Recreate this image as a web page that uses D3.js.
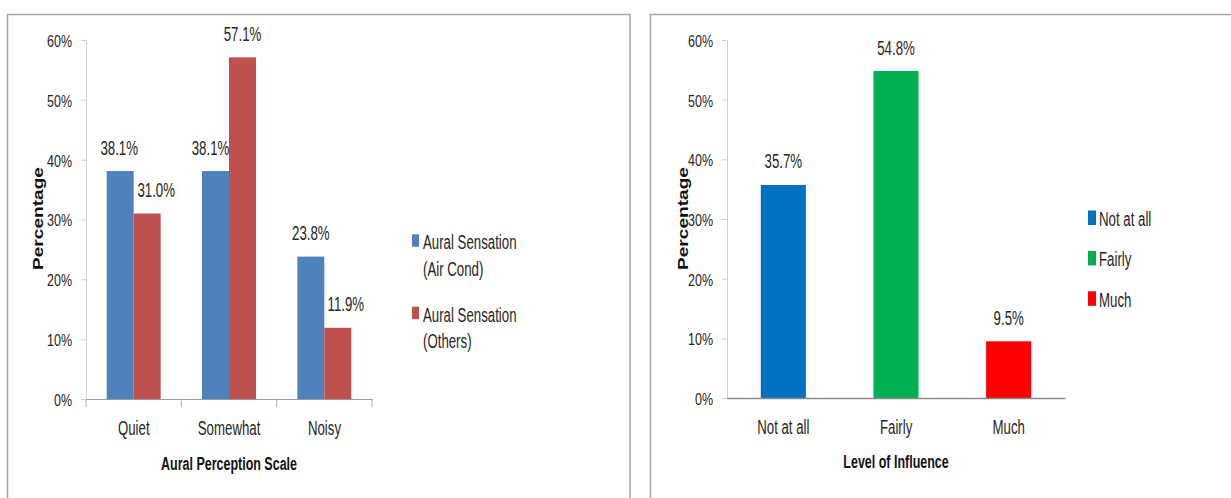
<!DOCTYPE html>
<html>
<head>
<meta charset="utf-8">
<script src="https://cdn.jsdelivr.net/npm/d3@7"></script>
<style>
  html, body { margin: 0; padding: 0; background: #fff; }
  svg { display: block; }
  /* narrow face: regular sans squeezed horizontally around its anchor */
  .narrow { font-family: "Liberation Sans", Arial, sans-serif; transform-box: fill-box; }
  .a-start { transform-origin: 0% 50%; }
  .a-middle { transform-origin: 50% 50%; }
  .a-end { transform-origin: 100% 50%; }
</style>
</head>
<body>
<svg id="chart" width="1231" height="498"></svg>
<script>
// Left chart: aural perception by category, two series
const perceptionCategories = ["Quiet", "Somewhat", "Noisy"];
const airCondValues = [38.1, 38.1, 23.8];
const othersValues = [31.0, 57.1, 11.9];
const perceptionSeries = ["Aural Sensation (Air Cond)", "Aural Sensation (Others)"];

// Right chart: level of influence
const influenceCategories = ["Not at all", "Fairly", "Much"];
const influenceValues = [35.7, 54.8, 9.5];

// Shared y-axis ticks
const yTicks = [0, 10, 20, 30, 40, 50, 60];

const svg = d3.select("#chart");
const textColor = "#262626";

// text styles: [font-size, horizontal squeeze]
const TICK = [17, 0.735];
const LABEL = [19.5, 0.68];
const TITLE = [18.5, 0.675];

function styleText(sel, spec, anchor, bold) {
  sel.attr("class", "narrow a-" + anchor)
    .attr("font-size", spec[0])
    .attr("font-weight", bold ? "bold" : null)
    .attr("fill", bold ? "#111" : textColor)
    .style("transform", `scaleX(${spec[1]})`);
  return sel;
}

// Panel frames
svg.append("path")
  .attr("d", "M7.5,498 V14.5 H630 V498")
  .attr("fill", "none").attr("stroke", "#a6a6a6").attr("stroke-width", 1.5);
svg.append("path")
  .attr("d", "M650.5,498 V14.5 H1231")
  .attr("fill", "none").attr("stroke", "#a6a6a6").attr("stroke-width", 1.5);

function drawYAxis(g, y, x0) {
  const ax = g.append("g").attr("transform", `translate(${x0},0)`)
    .call(d3.axisLeft(y).tickValues(yTicks).tickFormat(d => d + "%").tickSize(5).tickPadding(9));
  ax.select(".domain").attr("stroke", "#d0d0d0");
  ax.selectAll(".tick line").attr("stroke", "#d0d0d0");
  styleText(ax.selectAll(".tick text"), TICK, "end", false).attr("dy", "0.38em");
}

function drawYTitle(g, x, y) {
  g.append("text")
    .attr("transform", `translate(${x},${y}) rotate(-90)`)
    .attr("text-anchor", "middle").attr("dominant-baseline", "central")
    .attr("font-family", "Liberation Sans, Arial, sans-serif")
    .attr("font-weight", "bold").attr("font-size", 15)
    .attr("textLength", 103).attr("lengthAdjust", "spacingAndGlyphs")
    .attr("fill", "#111")
    .text("Percentage");
}

function drawXAxis(g, x, y0, strokeColor, strokeWidth) {
  const xa = g.append("g").attr("transform", `translate(0,${y0})`)
    .call(d3.axisBottom(x).tickSize(0));
  xa.select(".domain").attr("stroke", strokeColor).attr("stroke-width", strokeWidth);
  styleText(xa.selectAll(".tick text"), LABEL, "middle", false).attr("y", 36).attr("dy", 0);
}

// ---------- Left chart ----------
{
  const g = svg.append("g");
  const x = d3.scaleBand().domain(perceptionCategories).range([86, 372]).paddingInner(0).paddingOuter(0);
  const inner = d3.scaleBand().domain([0, 1]).range([0, 54]);
  const y = d3.scaleLinear().domain([0, 60]).range([399, 40]);
  const colors = ["#4F81BD", "#C0504D"];
  const seriesValues = [airCondValues, othersValues];

  drawYAxis(g, y, 86);

  // Bars
  seriesValues.forEach((vals, si) => {
    g.selectAll(null).data(vals).enter().append("rect")
      .attr("x", (d, i) => x(perceptionCategories[i]) + (x.bandwidth() - 54) / 2 + inner(si))
      .attr("y", d => y(d))
      .attr("width", inner.bandwidth())
      .attr("height", d => y(0) - y(d))
      .attr("fill", colors[si]);
  });

  // Value labels (nudged sideways where a neighbour would overlap)
  const nudge = [[-1, 9], [-5, 0], [0, 8]];
  seriesValues.forEach((vals, si) => {
    const t = g.selectAll(null).data(vals).enter().append("text")
      .attr("x", (d, i) => x(perceptionCategories[i]) + (x.bandwidth() - 54) / 2 + inner(si) + inner.bandwidth() / 2 + nudge[i][si])
      .attr("y", d => y(d) - 16.5)
      .attr("text-anchor", "middle")
      .text(d => d.toFixed(1) + "%");
    styleText(t, LABEL, "middle", false);
  });

  drawXAxis(g, x, 399, "#9a9a9a", 1);
  // Category separators
  const seps = [x(perceptionCategories[0]), ...perceptionCategories.map(c => x(c) + x.bandwidth())];
  g.selectAll(null).data(seps).enter().append("line")
    .attr("x1", d => d).attr("x2", d => d).attr("y1", 399).attr("y2", 407)
    .attr("stroke", "#b0b0b0");

  styleText(g.append("text")
    .attr("x", 229).attr("y", 470).attr("text-anchor", "middle")
    .text("Aural Perception Scale"), TITLE, "middle", true);

  drawYTitle(g, 37, 218.5);

  // Legend
  const legend = g.append("g");
  perceptionSeries.forEach((name, i) => {
    const base = 249.3 + i * 72.4;
    legend.append("rect").attr("x", 412).attr("y", base - 15).attr("width", 7).attr("height", 12.5).attr("fill", colors[i]);
    const cut = name.indexOf(" (");
    [name.slice(0, cut), name.slice(cut + 1)].forEach((p, j) => {
      styleText(legend.append("text")
        .attr("x", 423).attr("y", base + j * 26.5)
        .text(p), LABEL, "start", false);
    });
  });
}

// ---------- Right chart ----------
{
  const g = svg.append("g");
  const x = d3.scaleBand().domain(influenceCategories).range([727, 1065]).paddingInner(0.6).paddingOuter(0.3);
  const y = d3.scaleLinear().domain([0, 60]).range([398, 40]);
  const colors = ["#0070C0", "#00B050", "#FF0000"];

  drawYAxis(g, y, 727);

  g.selectAll(null).data(influenceValues).enter().append("rect")
    .attr("x", (d, i) => x(influenceCategories[i]))
    .attr("y", d => y(d))
    .attr("width", x.bandwidth())
    .attr("height", d => y(0) - y(d))
    .attr("fill", (d, i) => colors[i]);

  const vl = g.selectAll(null).data(influenceValues).enter().append("text")
    .attr("x", (d, i) => x(influenceCategories[i]) + x.bandwidth() / 2)
    .attr("y", d => y(d) - 16.5)
    .attr("text-anchor", "middle")
    .text(d => d.toFixed(1) + "%");
  styleText(vl, LABEL, "middle", false);

  drawXAxis(g, x, 398, "#8a8a8a", 1.5);

  styleText(g.append("text")
    .attr("x", 896).attr("y", 468.3).attr("text-anchor", "middle")
    .text("Level of Influence"), TITLE, "middle", true);

  drawYTitle(g, 682, 218.5);

  influenceCategories.forEach((name, i) => {
    const base = 226 + i * 40.4;
    g.append("rect").attr("x", 1088).attr("y", base - 15.5).attr("width", 8).attr("height", 14.5).attr("fill", colors[i]);
    styleText(g.append("text").attr("x", 1099).attr("y", base).text(name), LABEL, "start", false);
  });
}
</script>
</body>
</html>
